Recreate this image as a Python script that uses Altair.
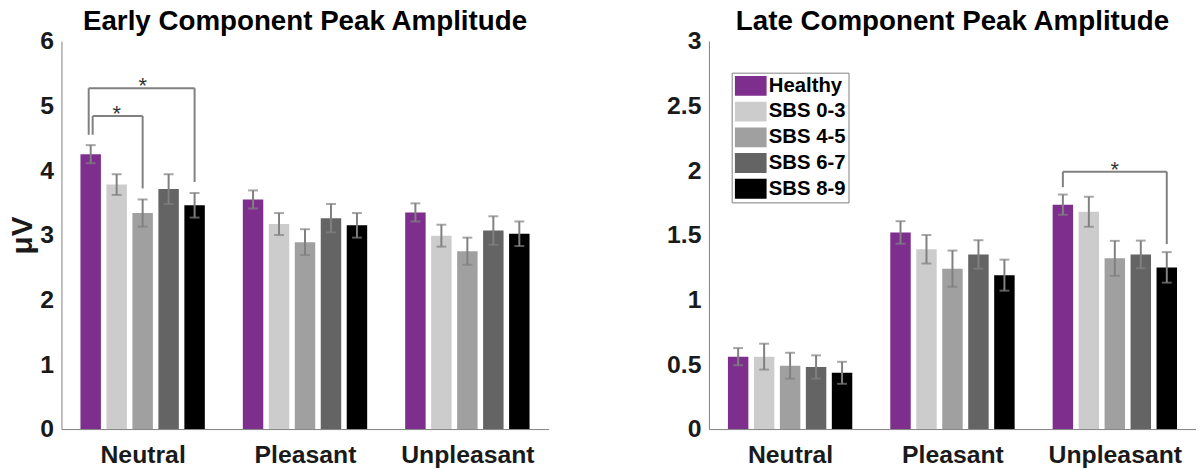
import json
import altair as alt
import pandas as pd

# ---------------- data ----------------
conditions = ["Neutral", "Pleasant", "Unpleasant"]
groups = ["Healthy", "SBS 0-3", "SBS 4-5", "SBS 6-7", "SBS 8-9"]
colors = ["#7E2F8E", "#CCCCCC", "#A0A0A0", "#646464", "#000000"]

early_neutral = [4.25, 3.78, 3.34, 3.71, 3.46]
early_pleasant = [3.55, 3.17, 2.89, 3.26, 3.15]
early_unpleasant = [3.35, 2.99, 2.75, 3.07, 3.02]
early_neutral_err = [0.14, 0.16, 0.21, 0.23, 0.19]
early_pleasant_err = [0.14, 0.17, 0.20, 0.22, 0.19]
early_unpleasant_err = [0.14, 0.17, 0.21, 0.22, 0.19]

late_neutral = [0.56, 0.56, 0.49, 0.48, 0.435]
late_pleasant = [1.52, 1.39, 1.24, 1.35, 1.19]
late_unpleasant = [1.735, 1.68, 1.32, 1.35, 1.25]
late_neutral_err = [0.066, 0.10, 0.10, 0.09, 0.085]
late_pleasant_err = [0.087, 0.11, 0.14, 0.11, 0.12]
late_unpleasant_err = [0.078, 0.116, 0.135, 0.107, 0.118]

early_ticks = [0, 1, 2, 3, 4, 5, 6]
late_ticks = [0, 0.5, 1, 1.5, 2, 2.5, 3]

# significance brackets: (condition, from group, to group, level, left drop end, right drop end)
early_brackets = [
    ("Neutral", "Healthy", "SBS 8-9", 5.27, 4.55, 3.82),
    ("Neutral", "Healthy", "SBS 4-5", 4.84, 4.55, 3.72),
]
late_brackets = [
    ("Unpleasant", "Healthy", "SBS 8-9", 1.99, 1.87, 1.43),
]

# ---------------- style ----------------
FONT = "Liberation Sans"
STEP = 0.16      # distance between bars inside a group (in group units)
HALF = 0.063     # half bar width (group units)
GRAY = "#808080"
W, H = 492, 392
bracket_nudges = {0: [-2, 2], 1: [0]}


def xpos(cond, grp):
    return conditions.index(cond) + (groups.index(grp) - 2) * STEP


def bar_frame(means, errs):
    rows = []
    for cond, mv, ev in zip(conditions, means, errs):
        for grp, m, e in zip(groups, mv, ev):
            x = xpos(cond, grp)
            rows.append(dict(cond=cond, group=grp, mean=m, err=e, x=x,
                             x_lo=x - HALF, x_hi=x + HALF, lo=m - e, hi=m + e))
    return pd.DataFrame(rows)


label_expr = "%s[datum.value]" % json.dumps(conditions)


def panel(means, errs, ymax, ticks, title, brackets, nudges, legend, ytitle):
    df = bar_frame(means, errs)
    xscale = alt.Scale(domain=[-0.5, 2.5], nice=False, zero=False)
    yscale = alt.Scale(domain=[0, ymax], nice=False)
    xaxis = alt.Axis(values=[0, 1, 2], labelExpr=label_expr, title=None, ticks=False,
                     grid=False, domainColor=GRAY, labelFont=FONT, labelFontSize=25,
                     labelFontWeight="bold", labelColor="#1a1a1a", labelPadding=14)
    yaxis_kw = dict(values=ticks, format="~g", grid=False, ticks=False, domainColor=GRAY,
                    labelFont=FONT, labelFontSize=25, labelFontWeight="bold",
                    labelColor="#1a1a1a", labelPadding=8)
    if ytitle:
        yaxis = alt.Axis(title=ytitle, titleFont=FONT, titleFontSize=30,
                         titleFontWeight="bold", titleColor="#1a1a1a",
                         titlePadding=2, **yaxis_kw)
    else:
        yaxis = alt.Axis(title=None, **yaxis_kw)

    color = alt.Color("group:N", scale=alt.Scale(domain=groups, range=colors),
                      legend=legend, sort=groups)
    base = alt.Chart(df)
    bars = base.mark_bar(strokeWidth=0).encode(
        x=alt.X("x_lo:Q", scale=xscale, axis=xaxis),
        x2="x_hi:Q",
        y=alt.Y("mean:Q", scale=yscale, axis=yaxis),
        y2=alt.datum(0),
        color=color,
    )
    err = base.mark_rule(color=GRAY, strokeWidth=2).encode(
        x="x:Q", y="lo:Q", y2="hi:Q")
    cap_lo = base.mark_tick(orient="horizontal", size=10, thickness=2, color=GRAY).encode(
        x="x:Q", y="lo:Q")
    cap_hi = base.mark_tick(orient="horizontal", size=10, thickness=2, color=GRAY).encode(
        x="x:Q", y="hi:Q")
    layers = [bars, err, cap_lo, cap_hi]

    for (cond, g1, g2, level, lbot, rbot), nud in zip(brackets, nudges):
        x1 = xpos(cond, g1)
        x2 = xpos(cond, g2)
        bdf = pd.DataFrame([dict(x1=x1, x2=x2, xm=(x1 + x2) / 2, y=level,
                                 lb=lbot, rb=rbot, star="*")])
        b = alt.Chart(bdf)
        layers.append(b.mark_rule(color=GRAY, strokeWidth=2, xOffset=nud, x2Offset=0)
                      .encode(x="x1:Q", x2="x2:Q", y="y:Q"))
        layers.append(b.mark_rule(color=GRAY, strokeWidth=2, xOffset=nud)
                      .encode(x="x1:Q", y="y:Q", y2="lb:Q"))
        layers.append(b.mark_rule(color=GRAY, strokeWidth=2)
                      .encode(x="x2:Q", y="y:Q", y2="rb:Q"))
        layers.append(b.mark_text(font=FONT, fontSize=22, color="#333333",
                                  baseline="alphabetic", dy=5)
                      .encode(x="xm:Q", y="y:Q", text="star:N"))

    # panel title, drawn as text just above the plot area
    tdf = pd.DataFrame([dict(t=title)])
    layers.append(alt.Chart(tdf).mark_text(
        font=FONT, fontSize=28, fontWeight="bold", color="black",
        baseline="alphabetic", align="center").encode(
        x=alt.value(W / 2), y=alt.value(-11), text="t:N"))

    return alt.layer(*layers).properties(width=W, height=H)


left = panel([early_neutral, early_pleasant, early_unpleasant],
             [early_neutral_err, early_pleasant_err, early_unpleasant_err],
             6, early_ticks, "Early Component Peak Amplitude",
             early_brackets, bracket_nudges[0], None, "μV")

legend = alt.Legend(title=None, orient="none", legendX=23, legendY=32,
                    symbolType="M-1,-1H2.2V1H-1Z", symbolSize=400, symbolStrokeWidth=0,
                    symbolOpacity=1, labelFont=FONT, labelFontSize=20.5,
                    labelFontWeight="bold", labelColor="black", labelOffset=14,
                    rowPadding=5, padding=3, strokeColor=GRAY, fillColor="white")

right = panel([late_neutral, late_pleasant, late_unpleasant],
              [late_neutral_err, late_pleasant_err, late_unpleasant_err],
              3, late_ticks, "Late Component Peak Amplitude",
              late_brackets, bracket_nudges[1], legend, None)

chart = alt.hconcat(left, right, spacing=119).resolve_scale(
    color="independent", x="independent", y="independent"
).resolve_legend(color="independent").properties(
    padding={"left": 0, "top": -2, "right": 0, "bottom": 0}
).configure_view(stroke=None)

chart.save("out.html", embed_options={"renderer": "svg", "actions": False})
